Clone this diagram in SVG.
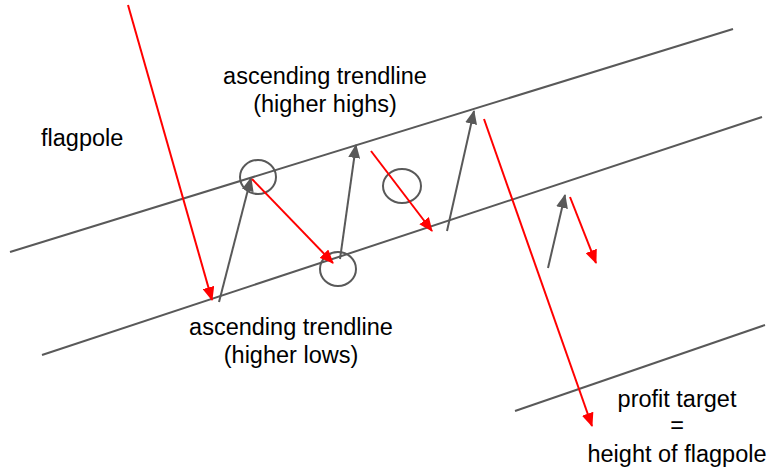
<svg xmlns="http://www.w3.org/2000/svg" width="769" height="469" viewBox="0 0 769 469">
<style>
.tl{stroke:#595959;stroke-width:2;fill:none}
.ga{stroke:#595959;stroke-width:2;fill:none;marker-end:url(#gh)}
.ra{stroke:#ff0000;stroke-width:2;fill:none;marker-end:url(#rh)}
.c{stroke:#595959;stroke-width:2;fill:none}
text{font-family:"Liberation Sans",Arial,sans-serif;font-size:23.5px;fill:#000}
.m{text-anchor:middle}
</style>
<defs>
<marker id="gh" viewBox="0 0 14 12" refX="13" refY="6" markerWidth="7" markerHeight="6" orient="auto">
<path d="M0,0 L14,6 L0,12 z" fill="#595959"/>
</marker>
<marker id="rh" viewBox="0 0 14 12" refX="13" refY="6" markerWidth="7" markerHeight="6" orient="auto">
<path d="M0,0 L14,6 L0,12 z" fill="#ff0000"/>
</marker>
</defs>
<g id="trendlines">
<line class="tl" x1="10" y1="252" x2="733" y2="29"/>
<line class="tl" x1="42" y1="355" x2="762" y2="117"/>
<line class="tl" x1="515" y1="411" x2="765" y2="325"/>
</g>
<g id="circles">
<ellipse id="c1" class="c" cx="258" cy="177" rx="18" ry="17"/>
<ellipse id="c2" class="c" cx="338" cy="269" rx="18" ry="17"/>
<ellipse id="c3" class="c" cx="402" cy="186" rx="19" ry="17"/>
</g>
<g id="connectors">
<line class="ra" x1="128" y1="5" x2="212" y2="300"/>
<line class="ga" x1="219" y1="302" x2="251" y2="178"/>
<line class="ra" x1="252" y1="179" x2="333" y2="263"/>
<line class="ga" x1="340" y1="259" x2="356" y2="145"/>
<line class="ra" x1="371" y1="151" x2="432" y2="231"/>
<line class="ga" x1="447" y1="231" x2="474" y2="111"/>
<line class="ra" x1="484" y1="119" x2="592" y2="426"/>
<line class="ga" x1="548" y1="268" x2="565" y2="195"/>
<line class="ra" x1="570" y1="197" x2="596" y2="263"/>
</g>
<g id="labels">
<text id="flagpole" x="41" y="146">flagpole</text>
<text id="upper" class="m" x="325"><tspan x="325" y="84">ascending trendline</tspan><tspan x="325" y="112">(higher highs)</tspan></text>
<text id="lower" class="m" x="291"><tspan x="291" y="335">ascending trendline</tspan><tspan x="291" y="363">(higher lows)</tspan></text>
<text id="target" class="m" x="677"><tspan x="677" y="407">profit target</tspan><tspan x="677" y="433">=</tspan><tspan x="677" y="462">height of flagpole</tspan></text>
</g>
</svg>
